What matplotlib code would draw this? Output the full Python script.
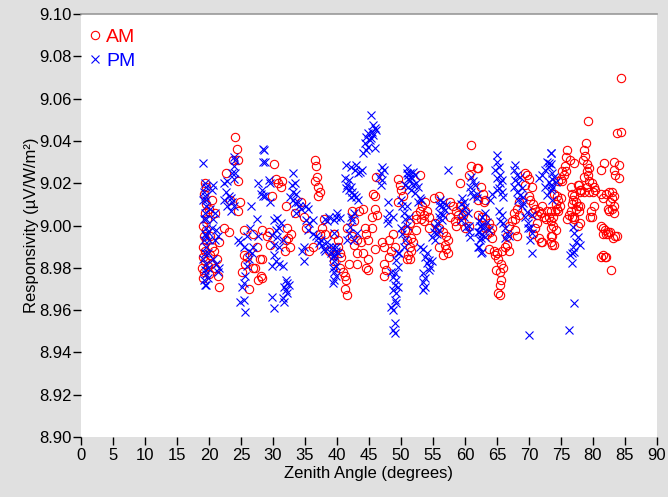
import numpy as np
import matplotlib
matplotlib.use("Agg")
import matplotlib.pyplot as plt
from matplotlib.ticker import FormatStrFormatter

plt.rcParams['font.family'] = ['Liberation Sans', 'DejaVu Sans']

# AM data: (zenith angle, responsivity)
am_data = [
    (19.0,8.975),(19.2,8.978),(18.9,8.980),(19.3,8.983),(19.1,8.985),(19.4,8.988),(19.0,8.990),(19.6,8.993),
    (19.2,8.995),(19.5,8.998),(19.1,9.000),(19.7,9.003),(19.3,9.006),(19.6,9.010),(19.2,9.015),(19.5,9.018),
    (19.3,9.020),(20.0,8.977),(20.3,8.982),(20.1,8.986),(20.4,8.990),(20.2,8.995),(19.8,8.981),(20.5,9.012),(20.0,9.008),
    (20.8,8.988),(21.2,8.984),(21.0,8.980),(21.6,8.971),(21.4,8.976),(21.0,9.006),(21.5,8.992),(22.4,8.999),
    (22.7,9.025),(23.2,8.997),(24.0,9.042),(24.3,9.036),(23.8,9.031),(24.5,9.031),(24.6,9.021),(23.3,9.012),
    (24.9,9.011),(24.6,9.007),(25.4,8.998),(25.4,8.986),(26.0,8.985),(25.2,8.978),(25.7,8.982),(26.2,8.970),
    (26.9,8.996),(27.5,8.990),(28.0,8.984),(28.2,8.976),(27.7,8.974),(26.8,8.980),(27.2,8.980),(28.3,8.998),
    (30.2,9.029),(30.4,9.022),(30.8,9.020),(31.2,9.018),(31.4,9.021),(29.9,9.014),(32.0,9.009),(29.4,8.997),
    (29.1,8.995),(29.6,8.991),(28.3,8.984),(28.3,8.975),(32.2,8.999),(32.8,8.996),(32.0,8.993),(32.6,8.990),
    (32.4,8.994),(31.9,8.988),(33.5,9.006),(34.3,9.011),(34.9,9.004),(35.1,8.999),(35.7,8.988),(36.2,8.990),
    (36.5,9.031),(36.7,9.028),(36.8,9.023),(36.6,9.021),(37.0,9.018),(37.3,9.016),(37.1,9.014),(37.7,8.999),
    (38.0,9.003),(37.4,8.996),(38.2,8.996),(38.8,8.988),(39.3,8.986),(39.6,8.996),(39.5,8.983),
    (46.1,9.023),(45.6,9.015),(45.9,9.014),(42.3,9.007),(44.0,9.008),(43.5,9.007),(45.9,9.008),(46.3,9.005),
    (45.4,9.004),(42.7,9.002),(45.5,8.999),(44.3,8.999),(41.6,8.999),(42.4,8.995),(43.2,8.993),(44.6,8.996),
    (43.8,8.992),(42.7,8.991),(43.2,8.987),(44.0,8.987),(44.8,8.993),(45.9,8.989),(44.8,8.984),(43.2,8.982),
    (44.6,8.980),(44.8,8.979),(47.0,8.992),(47.4,8.990),(48.2,8.993),(48.7,8.996),(49.0,8.990),(48.5,8.988),
    (48.2,8.985),(47.4,8.982),(47.7,8.979),(47.4,8.976),(49.5,9.022),(49.8,9.019),(50.0,9.017),(50.3,9.014),
    (49.5,9.011),(50.6,8.998),(50.9,8.993),(51.0,8.984),(39.6,8.996),(40.1,8.993),(40.4,8.987),(40.2,8.990),
    (40.7,8.985),(41.0,8.978),(41.2,8.976),(41.4,8.974),(41.3,8.970),(41.5,8.967),(41.8,8.982),(40.5,8.980),
    (61.0,9.038),(61.0,9.028),(61.8,9.027),(60.7,9.024),(59.2,9.020),(52.9,9.024),(56.0,9.014),(55.1,9.013),
    (53.8,9.011),(53.3,9.009),(54.0,9.007),(52.9,9.007),(53.6,9.005),(52.4,9.005),(53.2,9.003),(53.6,9.002),
    (54.4,9.004),(52.4,9.003),(51.4,9.001),(50.9,8.998),(52.4,8.998),(51.6,8.994),(51.9,8.992),(51.4,8.990),
    (51.6,8.988),(51.1,8.986),(51.4,8.984),(54.3,8.999),(55.3,9.001),(56.0,8.999),(56.6,8.997),(57.1,8.995),
    (57.4,8.993),(56.9,8.991),(56.0,8.990),(57.1,8.989),(57.4,8.987),(56.6,8.986),(57.6,9.011),(58.1,9.009),
    (58.6,9.007),(58.9,9.005),(57.6,9.004),(58.4,9.002),(59.2,9.009),(60.0,9.007),(59.7,9.005),(59.4,9.002),
    (58.6,9.000),(60.0,8.999),(60.6,9.000),
    (62.1,9.027),(62.5,9.018),(62.8,9.015),(62.1,9.012),(63.2,9.012),(62.9,9.011),(62.1,9.005),(62.6,9.004),
    (63.1,9.003),(63.7,9.001),(64.2,8.999),(63.1,8.999),(63.9,8.997),(63.4,8.996),(64.2,8.994),(63.7,8.989),
    (64.5,8.988),(65.0,8.987),(64.7,8.986),(65.8,8.988),(66.3,8.990),(66.5,8.991),(66.8,8.988),(65.2,8.984),
    (65.7,8.982),(66.0,8.980),(65.5,8.978),(64.9,8.979),(65.6,8.974),(65.4,8.972),(65.2,8.968),(65.5,8.967),
    (66.5,8.995),(66.8,9.000),(67.3,9.002),(67.8,9.003),(67.6,9.006),(68.1,9.008),(68.4,9.011),(68.4,9.005),
    (67.8,8.998),(68.2,8.995),
    (69.4,9.025),(69.7,9.024),(70.0,9.022),(69.4,9.019),(70.5,9.018),(70.0,9.014),(70.2,9.012),(70.7,9.010),
    (71.0,9.008),(70.5,9.006),(71.3,9.005),(71.5,9.007),(72.0,9.009),(71.8,9.006),(72.3,9.004),(72.6,9.003),
    (72.8,9.007),(73.1,9.004),(71.3,9.001),(71.0,8.999),(70.7,8.996),(71.5,8.994),(71.8,8.992),(72.0,8.992),
    (73.4,8.999),(73.6,8.995),(73.4,8.992),
    (84.4,9.0696),(79.2,9.0494),(83.8,9.0439),(84.4,9.0443),(78.9,9.0389),(76.0,9.0357),(75.8,9.0325),(76.4,9.031),
    (77.1,9.0294),(78.6,9.0357),(78.8,9.033),(78.4,9.031),(79.0,9.029),(79.4,9.027),(81.7,9.0295),(81.2,9.0262),
    (83.3,9.030),(84.0,9.0286),(83.3,9.0262),(83.5,9.024),(84.0,9.0225),
    (75.6,9.028),(75.2,9.026),(75.8,9.026),(75.4,9.024),(75.0,9.022),(74.6,9.021),(75.2,9.021),
    (79.0,9.026),(78.6,9.023),(79.2,9.024),(79.4,9.021),(79.9,9.020),(80.1,9.018),(80.3,9.017),(79.0,9.018),
    (78.2,9.017),(77.8,9.019),(78.0,9.016),(78.6,9.016),(79.4,9.016),(80.0,9.016),
    (76.5,9.018),(77.6,9.019),(78.0,9.017),
    (73.9,9.015),(74.4,9.014),(75.0,9.013),(74.6,9.012),(74.2,9.010),(74.8,9.009),(74.4,9.008),(74.0,9.007),(74.6,9.007),
    (76.7,9.015),(77.1,9.014),(76.9,9.012),(77.4,9.011),(76.7,9.010),(77.6,9.009),(78.0,9.009),(77.3,9.008),
    (76.5,9.007),(77.8,9.007),
    (81.2,9.015),(81.5,9.013),(82.1,9.015),(82.5,9.016),(82.9,9.016),(83.3,9.014),(82.9,9.013),(82.7,9.011),
    (83.3,9.009),(82.3,9.008),(82.9,9.008),(83.3,9.006),(82.5,9.007),
    (76.3,9.005),(76.7,9.004),(76.0,9.003),(77.1,9.003),
    (79.7,9.007),(80.1,9.009),(79.9,9.004),(79.5,9.004),
    (73.4,9.007),(73.8,9.004),(73.4,9.002),(73.8,9.000),(74.2,8.998),(73.6,8.991),(73.4,8.995),
    (77.1,9.004),(77.9,9.001),(77.7,9.000),
    (81.2,9.000),(81.5,8.999),(81.8,8.998),(82.3,8.997),(82.1,8.996),(81.6,8.996),(82.6,8.997),(82.4,8.996),
    (83.1,8.994),(83.5,8.995),(83.7,8.995),
    (81.6,8.986),(81.2,8.985),(81.9,8.985),(82.1,8.985),
    (82.8,8.979),(73.9,8.991),
]

# PM data: (zenith angle, responsivity)
pm_data = [
    (19.0,9.0294),(19.3,9.020),(19.5,9.018),(19.2,9.016),(19.3,9.014),(19.0,9.012),(19.6,9.012),(19.5,9.009),
    (19.3,9.006),(19.2,9.003),(19.6,9.003),(19.5,8.999),(19.3,8.996),(19.8,8.997),(19.6,8.995),(19.2,8.993),
    (20.0,8.993),(19.5,8.990),(19.3,8.987),(19.8,8.987),(19.1,8.984),(19.6,8.982),(19.3,8.979),(19.5,8.977),
    (19.2,8.974),(19.5,8.972),(19.3,8.972),(19.8,8.975),(19.9,8.980),
    (20.6,9.019),(20.4,9.017),(20.2,9.008),(20.9,9.006),(20.6,9.003),(20.4,8.999),(21.1,8.998),(21.4,8.995),
    (20.9,8.993),(20.6,8.984),(21.1,8.982),(21.6,8.980),(21.4,8.978),
    (22.3,9.020),(22.8,9.021),(22.6,9.016),(23.1,9.014),(22.3,9.012),(23.4,9.013),(23.6,9.011),(22.8,9.009),
    (23.4,9.007),(23.9,9.009),(23.9,9.022),(23.6,9.025),(24.1,9.025),(23.9,9.028),(24.1,9.031),(23.9,9.0325),
    (24.6,8.993),(24.9,8.992),(25.4,8.990),(25.9,8.995),(26.2,8.988),(26.4,8.999),(26.9,8.990),(27.5,9.003),
    (27.7,8.995),(26.7,8.987),(26.2,8.984),(25.9,8.981),(25.7,8.976),(25.4,8.973),(25.2,8.971),(24.9,8.964),
    (25.7,8.959),(25.4,8.965),
    (26.5,9.009),(27.7,9.020),(28.2,9.015),(28.4,9.014),(28.5,9.036),(28.5,9.030),
    (28.6,9.0357),(28.8,9.030),(29.4,9.0215),(29.6,9.020),(28.3,9.017),(28.8,9.014),(29.6,9.011),
    (33.1,9.0247),(33.4,9.020),(32.9,9.019),(33.1,9.016),(33.6,9.015),(32.6,9.0136),(33.1,9.012),(33.9,9.011),
    (33.4,9.0105),(34.1,9.009),(34.4,9.008),(33.6,9.006),(35.1,9.009),(35.4,9.008),
    (30.2,9.0026),(30.7,9.0034),(31.2,9.001),(30.9,8.999),(30.4,8.998),(29.9,8.9955),(30.7,8.9947),(31.5,8.993),
    (30.2,8.991),(30.9,8.990),
    (30.2,8.986),(30.4,8.983),(29.9,8.981),(30.9,8.982),(31.5,8.981),
    (32.0,8.974),(32.2,8.973),(32.5,8.972),(31.7,8.971),(32.0,8.9695),(32.2,8.968),(31.5,8.9656),(31.7,8.964),
    (29.9,8.966),(30.2,8.961),
    (35.1,9.0026),(35.6,9.001),(36.2,9.0026),(35.4,8.998),(36.2,8.996),(36.7,8.995),(37.0,8.994),(37.5,8.993),
    (37.2,8.9916),(37.7,8.991),(38.0,8.989),(38.5,8.992),(38.2,8.988),(38.8,8.990),(39.1,8.987),(39.3,8.990),
    (39.6,8.986),(39.8,8.988),(39.3,8.985),(39.6,8.983),(39.8,8.981),(39.3,8.980),(39.6,8.978),(39.8,8.976),
    (39.6,8.974),(39.3,8.973),(34.9,8.990),(34.6,8.988),(34.9,8.983),
    (38.2,9.003),(38.8,9.004),(38.5,9.002),
    (45.3,9.0522),(45.6,9.0475),(45.9,9.046),(45.4,9.0444),(46.1,9.0452),(44.8,9.0436),(45.6,9.0428),(44.6,9.042),
    (45.1,9.0404),(44.4,9.0389),(44.8,9.0373),(44.6,9.0357),(44.1,9.0341),(46.0,9.0365),(45.3,9.0412),
    (41.4,9.0286),(42.2,9.0278),(43.0,9.0286),(42.8,9.0262),(43.6,9.0254),(43.9,9.0262),(43.3,9.0247),(41.2,9.0223),
    (41.9,9.0215),(41.6,9.0191),(42.2,9.0183),(41.4,9.0176),(41.9,9.0168),(42.4,9.016),(42.7,9.0144),(42.2,9.0136),
    (43.0,9.0136),(43.3,9.012),
    (47.1,9.0278),(47.4,9.0262),(46.9,9.0247),(46.6,9.0231),(47.1,9.0215),(46.9,9.0191),
    (50.9,9.025),(51.1,9.022),(50.6,9.019),
    (40.0,9.0058),(39.8,9.0042),(39.6,9.0026),(40.4,9.0034),(42.2,9.0042),(42.7,9.0058),(42.4,9.0026),(42.1,8.9994),
    (41.9,8.9963),(41.6,8.993),(43.1,8.9963),(42.7,8.9930),
    (39.6,8.9963),(39.8,8.990),(40.1,8.987),
    (48.0,9.011),(48.2,9.006),(47.8,9.003),(47.9,9.001),(48.7,9.004),
    (50.0,9.012),(50.2,9.009),(50.5,9.006),(50.7,9.003),(50.0,8.999),(50.2,8.996),(50.7,8.993),(50.5,8.990),(49.7,8.987),
    (49.5,8.9869),(49.2,8.9837),(49.5,8.9805),(48.5,8.9782),(49.0,8.9774),(48.8,8.9758),(49.2,8.9742),(49.0,8.9719),
    (49.5,8.971),(48.8,8.9695),(49.2,8.9679),(49.0,8.9648),(49.2,8.9632),(48.5,8.9616),(48.8,8.960),(49.0,8.9538),
    (48.8,8.9506),(49.0,8.949),
    (57.4,9.0262),
    (50.9,9.027),(51.4,9.025),(51.9,9.0254),(51.1,9.0239),(51.6,9.023),(52.2,9.024),(51.4,9.0215),(52.4,9.020),
    (51.9,9.0191),(51.1,9.0183),(52.7,9.0183),(51.6,9.0168),(52.2,9.0152),(53.0,9.0129),(53.2,9.012),(52.7,9.0113),
    (50.9,9.009),(51.2,9.004),(50.9,9.000),
    (56.1,9.012),(56.6,9.011),(55.9,9.0097),(56.4,9.009),(57.1,9.0097),(56.9,9.0073),(56.1,9.006),(56.6,9.005),
    (55.9,9.004),(56.4,9.0026),(55.6,9.001),(55.3,8.9994),(55.9,8.998),(55.1,8.9971),(55.6,8.996),(54.8,8.9947),(55.3,8.9931),
    (53.0,8.990),(53.5,8.989),(54.0,8.9869),(53.8,8.9853),(54.3,8.9837),(54.8,8.983),(54.0,8.9821),(54.5,8.9805),
    (54.3,8.979),(53.5,8.9774),(53.8,8.975),(53.5,8.9735),(53.8,8.971),(53.5,8.9695),
    (59.6,9.0129),(59.8,9.011),(59.3,9.010),(60.0,9.0089),(59.6,9.007),(60.4,9.0058),(59.8,9.004),(59.3,9.0026),
    (60.6,9.000),(60.1,8.9994),(60.6,8.9971),(60.8,8.9947),
    (61.0,9.023),(61.3,9.021),(61.5,9.019),(60.8,9.018),(61.0,9.016),(61.8,9.015),(61.3,9.014),(61.8,9.013),
    (62.2,9.002),(62.5,9.000),(62.2,8.997),(62.5,8.994),(62.2,8.990),(62.5,8.987),
    (65.0,9.0333),(65.0,9.0302),(65.3,9.0278),(64.7,9.0262),(65.5,9.0239),(65.0,9.0223),(65.8,9.0215),(65.5,9.020),
    (65.3,9.0176),(65.0,9.0168),(65.8,9.016),(66.0,9.0136),
    (67.8,9.0286),(67.6,9.0262),(68.1,9.0239),(68.6,9.023),(67.8,9.0215),(68.3,9.020),(67.6,9.0183),(68.9,9.0176),
    (68.1,9.016),(68.6,9.0144),(69.1,9.0136),(68.3,9.012),(69.1,9.0105),(68.9,9.009),(69.7,9.0065),(69.4,9.0041),
    (69.9,9.001),(70.4,9.0049),(70.2,8.999),(69.9,8.9987),(70.4,8.9963),(70.2,8.9931),(70.4,8.9869),
    (71.5,9.0223),(72.0,9.0239),(72.5,9.0262),(73.1,9.0278),(73.4,9.029),(72.8,9.0302),(73.4,9.0341),(73.6,9.0247),
    (73.1,9.0207),(72.5,9.018),(73.4,9.0168),(72.8,9.0144),(73.6,9.012),
    (63.1,9.0058),(62.6,9.004),(63.4,9.0018),(62.4,9.000),(62.9,8.9994),(63.7,8.998),(62.1,8.9971),(62.6,8.996),
    (63.1,8.9947),(62.4,8.9931),(62.1,8.990),(62.6,8.9876),
    (65.3,9.007),(65.8,9.005),(65.5,9.002),(66.0,9.001),(66.3,8.999),(66.5,8.996),(66.3,8.994),(66.8,8.995),
    (70.0,8.9482),(64.2,9.015),(63.9,9.012),
    (73.4,9.0341),(73.2,9.0294),(73.9,9.0231),(73.6,9.022),(74.2,9.0207),(73.4,9.019),(73.6,9.0176),
    (76.9,8.9994),(77.1,8.9963),(77.6,8.9947),(77.4,8.9923),(77.9,8.991),(76.9,8.990),(77.1,8.9876),(76.7,8.987),
    (76.4,8.986),(76.7,8.9821),
    (77.0,8.9632),(76.3,8.9506),
]

x_ticks = list(range(0, 95, 5))
y_ticks = [8.90, 8.92, 8.94, 8.96, 8.98, 9.00, 9.02, 9.04, 9.06, 9.08, 9.10]

am = np.array(am_data)
pm = np.array(pm_data)

fig = plt.figure(figsize=(6.68, 4.97), dpi=100, facecolor='#e0e0e0')
ax = fig.add_axes([81/668, 60/497, 576/668, 423/497])
ax.set_facecolor('white')

ax.plot(am[:, 0], am[:, 1], linestyle='none', marker='o', markersize=6,
        markerfacecolor='none', markeredgecolor='#ff0000', markeredgewidth=0.8, label='AM')
ax.plot(pm[:, 0], pm[:, 1], linestyle='none', marker='x', markersize=6,
        color='#0000ff', markeredgewidth=0.8, label='PM')

ax.set_xlim(0, 90)
ax.set_ylim(8.90, 9.10)
ax.set_xticks(x_ticks)
ax.set_yticks(y_ticks)
ax.yaxis.set_major_formatter(FormatStrFormatter('%.2f'))
ax.tick_params(axis='both', direction='out', length=6, width=1, colors='black',
               labelsize=12, pad=2)
ax.tick_params(axis='y', pad=1)

for s in ['left', 'bottom', 'right']:
    ax.spines[s].set_visible(False)
ax.spines['top'].set_color('#999999')
ax.spines['top'].set_linewidth(1.2)

ax.set_xlabel('Zenith Angle (degrees)', fontsize=12, labelpad=2)
ax.set_ylabel('Responsivity (µV/W/m²)', fontsize=12, labelpad=0)

leg = ax.legend(loc='upper left', bbox_to_anchor=(0.0, 0.985), frameon=False,
                fontsize=14, handletextpad=0.3, handlelength=0.6, borderaxespad=0.0,
                labelspacing=0.35, markerscale=1.0)
for t, c in zip(leg.get_texts(), ['#ff0000', '#0000ff']):
    t.set_color(c)

fig.savefig('out.png', dpi=100, facecolor=fig.get_facecolor())
